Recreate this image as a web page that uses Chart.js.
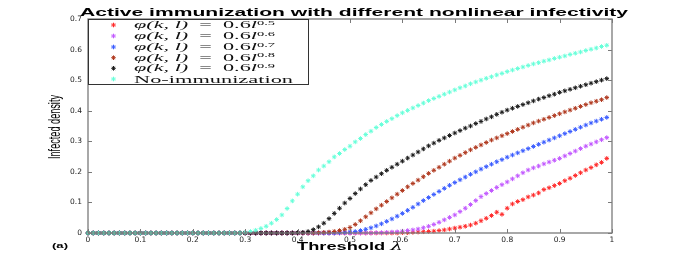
<!DOCTYPE html>
<html>
<head>
<meta charset="utf-8">
<script src="https://cdn.jsdelivr.net/npm/chart.js@4.4.1/dist/chart.umd.min.js"></script>
<style>
  html, body { margin: 0; padding: 0; background: #fff; }
  #wrap { position: relative; width: 676px; height: 263px; }
</style>
</head>
<body>
<div id="wrap"><canvas id="chart" width="676" height="263"></canvas></div>
<script>
// threshold values (x)
const lambda = [
  0, 0.01, 0.02, 0.03, 0.04, 0.05, 0.06, 0.07, 0.08, 0.09,
  0.1, 0.11, 0.12, 0.13, 0.14, 0.15, 0.16, 0.17, 0.18, 0.19,
  0.2, 0.21, 0.22, 0.23, 0.24, 0.25, 0.26, 0.27, 0.28, 0.29,
  0.3, 0.31, 0.32, 0.33, 0.34, 0.35, 0.36, 0.37, 0.38, 0.39,
  0.4, 0.41, 0.42, 0.43, 0.44, 0.45, 0.46, 0.47, 0.48, 0.49,
  0.5, 0.51, 0.52, 0.53, 0.54, 0.55, 0.56, 0.57, 0.58, 0.59,
  0.6, 0.61, 0.62, 0.63, 0.64, 0.65, 0.66, 0.67, 0.68, 0.69,
  0.7, 0.71, 0.72, 0.73, 0.74, 0.75, 0.76, 0.77, 0.78, 0.79,
  0.8, 0.81, 0.82, 0.83, 0.84, 0.85, 0.86, 0.87, 0.88, 0.89,
  0.9, 0.91, 0.92, 0.93, 0.94, 0.95, 0.96, 0.97, 0.98, 0.99
];

// phi = 0.6 l^0.5
const dens05 = [
  0, 0, 0, 0, 0, 0, 0, 0, 0, 0,
  0, 0, 0, 0, 0, 0, 0, 0, 0, 0,
  0, 0, 0, 0, 0, 0, 0, 0, 0, 0,
  0, 0, 0, 0, 0, 0, 0, 0, 0, 0,
  0, 0, 0, 0, 0, 0, 0, 0, 0, 0,
  0, 0, 0, 0, 0, 0, 0, 0, 0, 0,
  0.001, 0.001, 0.002, 0.003, 0.004, 0.005, 0.006, 0.008, 0.01, 0.013,
  0.016, 0.019, 0.022, 0.026, 0.032, 0.04, 0.048, 0.057, 0.068, 0.061,
  0.081, 0.095, 0.103, 0.109, 0.118, 0.124, 0.131, 0.142, 0.148, 0.155,
  0.162, 0.171, 0.179, 0.188, 0.197, 0.206, 0.214, 0.223, 0.231, 0.244
];

// phi = 0.6 l^0.6
const dens06 = [
  0, 0, 0, 0, 0, 0, 0, 0, 0, 0,
  0, 0, 0, 0, 0, 0, 0, 0, 0, 0,
  0, 0, 0, 0, 0, 0, 0, 0, 0, 0,
  0, 0, 0, 0, 0, 0, 0, 0, 0, 0,
  0, 0, 0, 0, 0, 0, 0, 0, 0, 0,
  0, 0, 0, 0, 0, 0.001, 0.001, 0.002, 0.003, 0.004,
  0.006, 0.008, 0.01, 0.013, 0.017, 0.022, 0.028, 0.035, 0.043, 0.051,
  0.059, 0.07, 0.081, 0.093, 0.106, 0.119, 0.129, 0.139, 0.149, 0.158,
  0.167, 0.177, 0.187, 0.197, 0.206, 0.213, 0.219, 0.226, 0.232, 0.238,
  0.244, 0.252, 0.26, 0.268, 0.276, 0.284, 0.291, 0.298, 0.305, 0.312
];

// phi = 0.6 l^0.7
const dens07 = [
  0, 0, 0, 0, 0, 0, 0, 0, 0, 0,
  0, 0, 0, 0, 0, 0, 0, 0, 0, 0,
  0, 0, 0, 0, 0, 0, 0, 0, 0, 0,
  0, 0, 0, 0, 0, 0, 0, 0, 0, 0,
  0, 0, 0, 0, 0, 0, 0, 0, 0.001, 0.002,
  0.003, 0.005, 0.008, 0.012, 0.017, 0.023, 0.03, 0.038, 0.046, 0.055,
  0.064, 0.074, 0.084, 0.095, 0.106, 0.116, 0.126, 0.136, 0.146, 0.156,
  0.165, 0.174, 0.183, 0.192, 0.2, 0.209, 0.217, 0.225, 0.233, 0.24,
  0.248, 0.255, 0.262, 0.269, 0.276, 0.283, 0.29, 0.297, 0.304, 0.311,
  0.318, 0.325, 0.332, 0.339, 0.346, 0.353, 0.36, 0.366, 0.372, 0.378
];

// phi = 0.6 l^0.8
const dens08 = [
  0, 0, 0, 0, 0, 0, 0, 0, 0, 0,
  0, 0, 0, 0, 0, 0, 0, 0, 0, 0,
  0, 0, 0, 0, 0, 0, 0, 0, 0, 0,
  0, 0, 0, 0, 0, 0, 0, 0, 0, 0,
  0, 0, 0, 0, 0.001, 0.002, 0.003, 0.005, 0.008, 0.012,
  0.018, 0.028, 0.04, 0.053, 0.066, 0.079, 0.091, 0.103, 0.115, 0.127,
  0.139, 0.151, 0.162, 0.173, 0.184, 0.195, 0.205, 0.215, 0.225, 0.235,
  0.245, 0.254, 0.263, 0.272, 0.28, 0.288, 0.296, 0.304, 0.311, 0.318,
  0.325, 0.332, 0.339, 0.346, 0.353, 0.36, 0.366, 0.372, 0.378, 0.384,
  0.39, 0.396, 0.402, 0.408, 0.414, 0.42, 0.426, 0.431, 0.436, 0.443
];

// phi = 0.6 l^0.9
const dens09 = [
  0, 0, 0, 0, 0, 0, 0, 0, 0, 0,
  0, 0, 0, 0, 0, 0, 0, 0, 0, 0,
  0, 0, 0, 0, 0, 0, 0, 0, 0, 0,
  0, 0, 0, 0, 0, 0, 0, 0, 0, 0,
  0.001, 0.002, 0.005, 0.011, 0.02, 0.032, 0.047, 0.064, 0.081, 0.098,
  0.113, 0.129, 0.144, 0.158, 0.172, 0.183, 0.194, 0.205, 0.215, 0.225,
  0.235, 0.245, 0.255, 0.265, 0.275, 0.285, 0.294, 0.303, 0.311, 0.319,
  0.327, 0.335, 0.343, 0.35, 0.358, 0.365, 0.373, 0.38, 0.388, 0.395,
  0.402, 0.408, 0.414, 0.42, 0.426, 0.432, 0.438, 0.443, 0.449, 0.454,
  0.46, 0.465, 0.47, 0.475, 0.48, 0.485, 0.49, 0.495, 0.5, 0.505
];

// no immunization
const densNone = [
  0, 0, 0, 0, 0, 0, 0, 0, 0, 0,
  0, 0, 0, 0, 0, 0, 0, 0, 0, 0,
  0, 0, 0, 0, 0, 0, 0, 0, 0, 0,
  0.002, 0.005, 0.009, 0.015, 0.022, 0.032, 0.044, 0.059, 0.08, 0.105,
  0.127, 0.151, 0.171, 0.187, 0.206, 0.219, 0.233, 0.249, 0.26, 0.273,
  0.284, 0.298, 0.309, 0.322, 0.333, 0.345, 0.355, 0.365, 0.374, 0.384,
  0.393, 0.401, 0.409, 0.417, 0.425, 0.433, 0.44, 0.447, 0.454, 0.461,
  0.468, 0.475, 0.481, 0.488, 0.494, 0.5, 0.506, 0.511, 0.517, 0.522,
  0.528, 0.533, 0.538, 0.543, 0.548, 0.553, 0.557, 0.562, 0.566, 0.571,
  0.575, 0.579, 0.584, 0.588, 0.592, 0.597, 0.601, 0.605, 0.61, 0.614
];

const xTickLabels = ["0", "0.1", "0.2", "0.3", "0.4", "0.5", "0.6", "0.7", "0.8", "0.9", "1"];
const yTickLabels = ["0", "0.1", "0.2", "0.3", "0.4", "0.5", "0.6", "0.7"];

const seriesNames = ["0.5", "0.6", "0.7", "0.8", "0.9", "No-immunization"];
const seriesData = [dens05, dens06, dens07, dens08, dens09, densNone];
const seriesColors = ["#ff2a2a", "#c259ff", "#3a5cff", "#b0391f", "#1a1a1a", "#66ffd9"];

// stretch text horizontally to a given width
function fitText(ctx, text, x, y, w, font) {
  ctx.font = font;
  const m = ctx.measureText(text).width;
  ctx.save();
  ctx.translate(x, y);
  ctx.scale(w / m, 1);
  ctx.textAlign = "left";
  ctx.fillText(text, 0, 0);
  ctx.restore();
}

// pieces: [text, font, dy]
function richText(ctx, pieces, x, y, w) {
  let total = 0;
  pieces.forEach(p => { ctx.font = p[1]; total += ctx.measureText(p[0]).width; });
  const k = w / total;
  ctx.save();
  ctx.translate(x, y);
  ctx.scale(k, 1);
  ctx.textAlign = "left";
  let cx = 0;
  pieces.forEach(p => {
    ctx.font = p[1];
    ctx.fillText(p[0], cx, p[2] || 0);
    cx += ctx.measureText(p[0]).width;
  });
  ctx.restore();
}

const decor = {
  id: "decor",
  afterDraw(chart) {
    const { ctx, chartArea: a, scales } = chart;
    const sx = scales.x, sy = scales.y;
    ctx.save();

    // frame
    ctx.strokeStyle = "#7a7a7a";
    ctx.lineWidth = 1.3;
    ctx.strokeRect(a.left, a.top, a.right - a.left, a.bottom - a.top);

    // inward ticks on all four sides
    ctx.lineWidth = 1;
    ctx.beginPath();
    for (let i = 0; i < xTickLabels.length; i++) {
      const px = Math.round(sx.getPixelForValue(Number(xTickLabels[i]))) + 0.5;
      ctx.moveTo(px, a.bottom); ctx.lineTo(px, a.bottom - 4);
      ctx.moveTo(px, a.top); ctx.lineTo(px, a.top + 4);
    }
    for (let i = 0; i < yTickLabels.length; i++) {
      const py = Math.round(sy.getPixelForValue(Number(yTickLabels[i]))) + 0.5;
      ctx.moveTo(a.left, py); ctx.lineTo(a.left + 4, py);
      ctx.moveTo(a.right, py); ctx.lineTo(a.right - 4, py);
    }
    ctx.stroke();

    ctx.fillStyle = "#000";
    ctx.textBaseline = "alphabetic";

    // title
    fitText(ctx, "Active immunization with different nonlinear infectivity", 80, 16, 548,
      "bold 11px 'Liberation Sans'");

    // x label
    richText(ctx, [["Threshold ", "bold 10px 'Liberation Sans'"], ["λ", "italic 11px 'DejaVu Serif'"]],
      297, 250, 106);

    // panel tag
    fitText(ctx, "(a)", 52, 248, 16, "bold 8px 'Liberation Sans'");

    // y label (tall, condensed)
    ctx.save();
    ctx.translate(60, 127);
    ctx.rotate(-Math.PI / 2);
    fitText(ctx, "Infected density", -32, 0, 64, "500 17px 'Liberation Sans'");
    ctx.restore();

    // legend box
    const lx = a.left, ly = a.top, lw = 220, lh = 65;
    ctx.fillStyle = "#fff";
    ctx.fillRect(lx, ly, lw, lh);
    ctx.strokeStyle = "#333";
    ctx.lineWidth = 1;
    ctx.strokeRect(lx + 0.5, ly + 0.5, lw, lh);

    const rows = [25, 36, 47, 57.7, 68.3, 79];
    for (let i = 0; i < seriesNames.length; i++) {
      const ry = rows[i];
      // marker
      ctx.strokeStyle = seriesColors[i];
      ctx.lineWidth = 1;
      Chart.helpers.drawPoint(ctx, { pointStyle: "star", radius: 2.3, rotation: 0, borderWidth: 1 }, 113.5, ry);
      ctx.fillStyle = "#111";
      if (i < 5) {
        richText(ctx, [
          ["φ(k, l)", "italic 10px 'Liberation Serif'"],
          ["  =  0.6", "10px 'Liberation Serif'"],
          ["l", "italic 10px 'Liberation Serif'"],
          [seriesNames[i], "6.5px 'Liberation Serif'", -3.5]
        ], 134, ry + 3, 141);
      } else {
        fitText(ctx, seriesNames[i], 134, ry + 3.5, 159, "10.5px 'Liberation Serif'");
      }
    }
    ctx.restore();
  }
};

const datasets = seriesData.map((arr, i) => ({
  label: seriesNames[i],
  data: lambda.map((l, j) => ({ x: l, y: arr[j] })),
  showLine: false,
  pointStyle: "star",
  pointRadius: 2.3,
  pointBorderWidth: 1,
  borderColor: seriesColors[i],
  backgroundColor: seriesColors[i],
  order: seriesData.length - 1 - i,
  clip: false
}));

new Chart(document.getElementById("chart"), {
  type: "scatter",
  data: { datasets: datasets },
  options: {
    responsive: false,
    animation: false,
    events: [],
    layout: { padding: { left: 0, right: 64, top: 19, bottom: 0 } },
    plugins: { legend: { display: false }, tooltip: { enabled: false }, title: { display: false } },
    scales: {
      x: {
        type: "linear",
        min: 0,
        max: 1,
        afterFit: (s) => { s.height = 30; },
        afterBuildTicks: (s) => { s.ticks = xTickLabels.map(t => ({ value: Number(t) })); },
        grid: { display: false, drawTicks: false },
        border: { display: false },
        ticks: {
          padding: 3,
          color: "#222",
          font: { family: "DejaVu Sans", size: 7.5 },
          maxRotation: 0,
          autoSkip: false,
          callback: (v, i) => xTickLabels[i]
        }
      },
      y: {
        type: "linear",
        min: 0,
        max: 0.7,
        afterFit: (s) => { s.width = 88; },
        afterBuildTicks: (s) => { s.ticks = yTickLabels.map(t => ({ value: Number(t) })); },
        grid: { display: false, drawTicks: false },
        border: { display: false },
        ticks: {
          padding: 6,
          color: "#222",
          font: { family: "DejaVu Sans", size: 7.5 },
          autoSkip: false,
          callback: (v, i) => yTickLabels[i]
        }
      }
    }
  },
  plugins: [decor]
});
</script>
</body>
</html>
